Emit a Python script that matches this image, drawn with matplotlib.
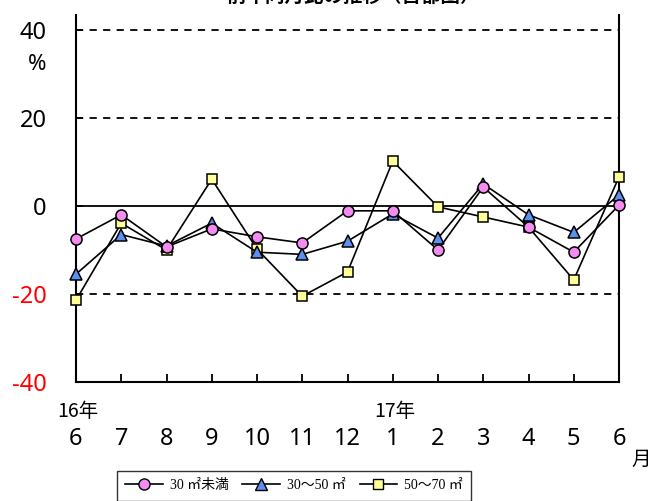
import numpy as np
import matplotlib.pyplot as plt
from matplotlib.lines import Line2D
from matplotlib.transforms import offset_copy

plt.rcParams['font.family'] = ['Noto Sans', 'Noto Sans CJK JP', 'DejaVu Sans']

# months from 2016-06 to 2017-06
months = ['6', '7', '8', '9', '10', '11', '12', '1', '2', '3', '4', '5', '6']
year_labels = {0: '16年', 7: '17年'}

# year-on-year change (%) by floor area
under30 = [-7.5, -2.0, -9.3, -5.2, -7.0, -8.4, -1.1, -1.1, -10.0, 4.3, -4.8, -10.5, 0.2]
from30to50 = [-15.5, -6.5, -9.1, -3.9, -10.5, -11.0, -8.0, -1.8, -7.3, 5.0, -2.0, -6.0, 2.5]
from50to70 = [-21.4, -3.9, -10.0, 6.1, -9.8, -20.5, -15.0, 10.2, -0.2, -2.5, -4.8, -16.8, 6.6]

series_names = ['30 ㎡未満', '30～50 ㎡', '50～70 ㎡']

fig = plt.figure(figsize=(6.51, 5.01), dpi=100)
ax = fig.add_axes([76 / 651, 1 - 382 / 501, 543 / 651, 367 / 501])

x = np.arange(len(months))

# reference lines
for yv in [40, 20, -20]:
    ax.axhline(yv, color='black', lw=1.3, ls=(0, (4, 3.5)), zorder=1)
ax.axhline(0, color='black', lw=1.3, zorder=1)

style = dict(color='black', lw=1.2, markeredgecolor='black', markeredgewidth=1.1)
l3, = ax.plot(x, from50to70, marker='s', markersize=7.5, markerfacecolor='#FFFF99', zorder=3, **style)
l2, = ax.plot(x, from30to50, marker='^', markersize=8.5, markerfacecolor='#5B8FF0', zorder=4, **style)
l1, = ax.plot(x, under30, marker='o', markersize=8, markerfacecolor='#F58CF0', zorder=5, **style)
for ln in (l1, l2, l3):
    ln.set_clip_on(False)

ax.set_xlim(0, 11.96)
ax.set_ylim(-40, 43.4)

ax.spines['top'].set_visible(False)
for s in ['left', 'right', 'bottom']:
    ax.spines[s].set_linewidth(1.5)

ax.set_yticks([40, 20, 0, -20, -40])
ax.set_yticklabels(['40', '20', '0', '-20', '-40'], fontsize=17)
for lbl, col in zip(ax.get_yticklabels(), ['black', 'black', 'black', 'red', 'red']):
    lbl.set_color(col)
ax.tick_params(axis='y', direction='in', length=5, width=1.3, pad=21)

ax.set_xticks(x)
ax.set_xticklabels([])
ax.tick_params(axis='x', direction='in', length=6, width=1.3)

# month labels and year labels below the axis
month_tr = offset_copy(ax.transData, fig=fig, x=0, y=-57, units='dots')
for i, m in enumerate(months):
    ax.text(i, -40, m, transform=month_tr, ha='center', va='center', fontsize=17)
year_tr = offset_copy(ax.transData, fig=fig, x=2, y=-29, units='dots')
for xi, lab in year_labels.items():
    ax.text(xi, -40, lab, transform=year_tr, ha='center', va='center', fontsize=14,
            fontfamily=['Noto Sans CJK JP'])

fig.text(641 / 651, 1 - 459 / 501, '月', ha='center', va='center', fontsize=14,
         fontfamily=['Noto Sans CJK JP'])
fig.text(37 / 651, 1 - 65 / 501, '%', ha='center', va='center', fontsize=16)

# title, partly cut at the top edge as in the source image
fig.text(353 / 651, 1 - 6 / 501, '前年同月比の推移（首都圏）', ha='center', va='bottom',
         fontsize=14, fontweight='bold', fontfamily=['Noto Sans CJK JP'])

handles = [
    Line2D([], [], color='black', lw=1.2, marker='o', markersize=8, markerfacecolor='#F58CF0', markeredgecolor='black'),
    Line2D([], [], color='black', lw=1.2, marker='^', markersize=9, markerfacecolor='#5B8FF0', markeredgecolor='black'),
    Line2D([], [], color='black', lw=1.2, marker='s', markersize=7.5, markerfacecolor='#FFFF99', markeredgecolor='black'),
]
leg = fig.legend(handles, series_names, loc='upper center', bbox_to_anchor=(294 / 651, 1 - 464 / 501),
                 ncol=3, frameon=True, fancybox=False, edgecolor='black', handlelength=2.7,
                 columnspacing=1.0, handletextpad=0.5, borderpad=0.6,
                 prop={'family': ['Liberation Serif', 'Noto Sans CJK JP'], 'size': 10})
leg.get_frame().set_linewidth(1.0)

fig.savefig('out.png', dpi=100)
